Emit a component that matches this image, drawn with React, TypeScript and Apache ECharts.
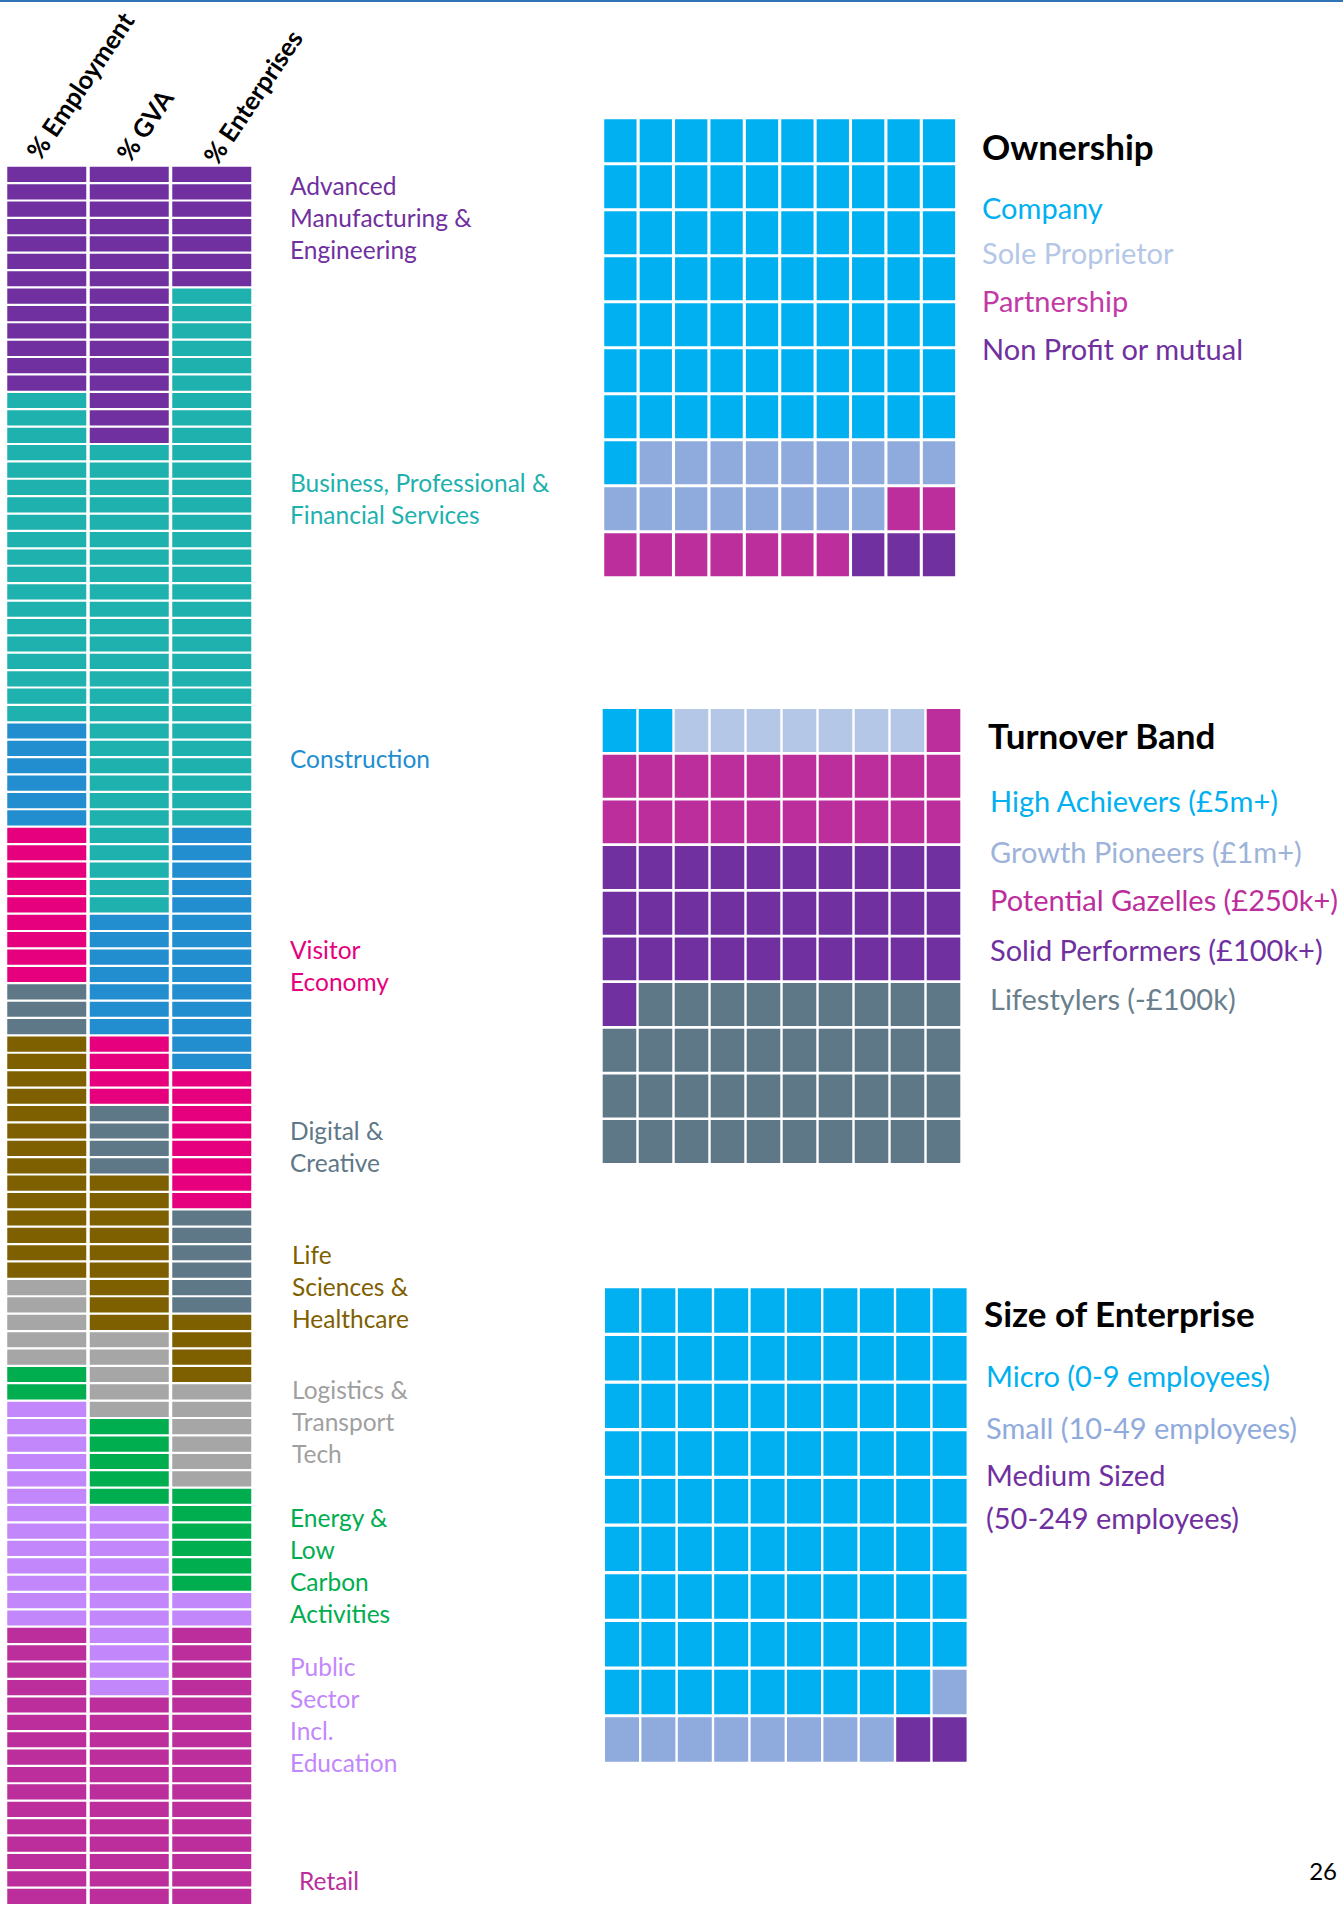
import React, { useEffect, useRef } from "react";
import * as echarts from "echarts";

// ---------- DATA ----------
const columnLabels = ["% Employment", "% GVA", "% Enterprises"];
const sectorLabels = [
  "Advanced\nManufacturing &\nEngineering",
  "Business, Professional &\nFinancial Services",
  "Construction",
  "Visitor\nEconomy",
  "Digital &\nCreative",
  "Life\nSciences &\nHealthcare",
  "Logistics &\nTransport\nTech",
  "Energy &\nLow\nCarbon\nActivities",
  "Public\nSector\nIncl.\nEducation",
  "Retail",
];
const employmentShare = [13, 19, 6, 9, 3, 14, 5, 2, 13, 16];
const gvaShare = [16, 27, 7, 4, 4, 9, 5, 5, 11, 12];
const enterpriseShare = [7, 31, 14, 8, 6, 4, 6, 6, 2, 16];

const ownershipTitle = "Ownership";
const ownershipCategories = ["Company", "Sole Proprietor", "Partnership", "Non Profit or mutual"];
const ownershipValues = [71, 17, 9, 3];

const turnoverTitle = "Turnover Band";
const turnoverCategories = [
  "High Achievers (£5m+)",
  "Growth Pioneers (£1m+)",
  "Potential Gazelles (£250k+)",
  "Solid Performers (£100k+)",
  "Lifestylers (-£100k)",
];
const turnoverValues = [2, 7, 21, 31, 39];

const sizeTitle = "Size of Enterprise";
const sizeCategories = ["Micro (0-9 employees)", "Small (10-49 employees)", "Medium Sized\n(50-249 employees)"];
const sizeValues = [89, 9, 2];

const pageNumber = "26";

// ---------- STYLES ----------
const FONT = "Lato, 'Open Sans', sans-serif";
const sectorColors = ["#7030A0", "#1EB1AE", "#228ECF", "#E6007E", "#5E7888", "#7F6000", "#A6A6A6", "#00AD4F", "#C287FB", "#BC2E9C"];
const sectorTextColors = ["#7030A0", "#1EB1AE", "#228ECF", "#E6007E", "#5E7888", "#7F6000", "#A0A0A0", "#00AD4F", "#C287FB", "#BC2E9C"];
const ownershipColors = ["#00B0F0", "#8FAADC", "#BC2E9C", "#7030A0"];
const ownershipTextColors = ["#00B0F0", "#B4C7E7", "#C23AA6", "#7030A0"];
const turnoverColors = ["#00B0F0", "#B4C7E7", "#BC2E9C", "#7030A0", "#5E7888"];
const turnoverTextColors = ["#00B0F0", "#9DB3D9", "#BC2E9C", "#7030A0", "#6A7F8C"];
const sizeColors = ["#00B0F0", "#8FAADC", "#7030A0"];
const sizeTextColors = ["#00B0F0", "#8FAADC", "#7030A0"];

// label positions (layout only)
const sectorLabelPos = [
  [290, 217], [290, 498], [290, 758], [290, 965], [290, 1146],
  [292, 1286], [292, 1421], [290, 1565], [290, 1714], [299, 1880],
];
const headerPos = [[43, 163], [133, 165], [220, 168]];

function waffleData(values: number[]) {
  const out: number[][] = [];
  let k = 0;
  values.forEach((v, ci) => {
    for (let i = 0; i < v; i++) {
      out.push([k % 10, Math.floor(k / 10), ci]);
      k++;
    }
  });
  return out;
}

function stackData(cols: number[][]) {
  const out: number[][] = [];
  cols.forEach((vals, c) => {
    let r = 0;
    vals.forEach((v, si) => {
      for (let i = 0; i < v; i++) {
        out.push([c, r, si]);
        r++;
      }
    });
  });
  return out;
}

const cells10 = Array.from({ length: 10 }, (_, i) => String(i));
const rows100 = Array.from({ length: 100 }, (_, i) => String(i));

function cellRenderer(colors: string[], gapX: number, gapY: number) {
  return (params: any, api: any) => {
    const c = api.coord([api.value(0), api.value(1)]);
    const s = api.size([1, 1]);
    const w = s[0] - gapX;
    const h = s[1] - gapY;
    return {
      type: "rect",
      shape: { x: c[0] - w / 2, y: c[1] - h / 2, width: w, height: h },
      style: { fill: colors[api.value(2)] },
    };
  };
}

export default function App() {
  const ref = useRef<HTMLDivElement>(null);
  useEffect(() => {
    document.body.style.margin = "0";
    const chart = echarts.init(ref.current!, null, { renderer: "svg" });

    const grids = [
      { left: 5.5, top: 165.7, width: 247.5, height: 1739.5 },
      { left: 602.7, top: 117.8, width: 354, height: 460 },
      { left: 601.5, top: 707.7, width: 360, height: 456.7 },
      { left: 603.8, top: 1286.7, width: 364, height: 476.7 },
    ];
    const hidden = { show: false };
    const xAxis = [
      { gridIndex: 0, type: "category", data: columnLabels, ...hidden },
      { gridIndex: 1, type: "category", data: cells10, ...hidden },
      { gridIndex: 2, type: "category", data: cells10, ...hidden },
      { gridIndex: 3, type: "category", data: cells10, ...hidden },
    ];
    const yAxis = [
      { gridIndex: 0, type: "category", data: rows100, inverse: true, ...hidden },
      { gridIndex: 1, type: "category", data: cells10, inverse: true, ...hidden },
      { gridIndex: 2, type: "category", data: cells10, inverse: true, ...hidden },
      { gridIndex: 3, type: "category", data: cells10, inverse: true, ...hidden },
    ];

    const graphic: any[] = [];
    graphic.push({ type: "rect", shape: { x: 0, y: 0, width: 1343, height: 2 }, style: { fill: "#2F74B5" } });

    columnLabels.forEach((t, i) => {
      graphic.push({
        type: "text",
        x: headerPos[i][0],
        y: headerPos[i][1],
        rotation: (56 * Math.PI) / 180,
        style: { text: t, font: `bold 25.5px ${FONT}`, fill: "#000", textAlign: "left", textVerticalAlign: "bottom" },
      });
    });

    sectorLabels.forEach((t, i) => {
      graphic.push({
        type: "text",
        x: sectorLabelPos[i][0],
        y: sectorLabelPos[i][1],
        style: {
          text: t,
          font: `24.5px ${FONT}`,
          lineHeight: 32,
          fill: sectorTextColors[i],
          textAlign: "left",
          textVerticalAlign: "middle",
        },
      });
    });

    const legendBlock = (title: string, titlePos: number[], cats: string[], colors: string[], x: number, ys: number[], lh: number) => {
      graphic.push({
        type: "text",
        x: titlePos[0],
        y: titlePos[1],
        style: { text: title, font: `bold 35px ${FONT}`, fill: "#000", textAlign: "left", textVerticalAlign: "middle" },
      });
      cats.forEach((c, i) => {
        graphic.push({
          type: "text",
          x,
          y: ys[i],
          style: { text: c, font: `29px ${FONT}`, lineHeight: lh, fill: colors[i], textAlign: "left", textVerticalAlign: "middle" },
        });
      });
    };
    legendBlock(ownershipTitle, [982, 146], ownershipCategories, ownershipTextColors, 982, [207, 252, 300, 348], 30);
    legendBlock(turnoverTitle, [988, 735], turnoverCategories, turnoverTextColors, 990, [800, 851, 899, 949, 998], 30);
    legendBlock(sizeTitle, [984, 1313], sizeCategories, sizeTextColors, 986, [1375, 1427, 1496], 43);

    graphic.push({
      type: "text",
      x: 1337,
      y: 1870,
      style: { text: pageNumber, font: `24px ${FONT}`, fill: "#000", textAlign: "right", textVerticalAlign: "middle" },
    });

    chart.setOption({
      animation: false,
      backgroundColor: "#fff",
      grid: grids,
      xAxis,
      yAxis,
      series: [
        {
          type: "custom",
          xAxisIndex: 0,
          yAxisIndex: 0,
          renderItem: cellRenderer(sectorColors, 3.5, 2.2),
          data: stackData([employmentShare, gvaShare, enterpriseShare]),
        },
        {
          type: "custom",
          xAxisIndex: 1,
          yAxisIndex: 1,
          renderItem: cellRenderer(ownershipColors, 3.1, 3),
          data: waffleData(ownershipValues),
        },
        {
          type: "custom",
          xAxisIndex: 2,
          yAxisIndex: 2,
          renderItem: cellRenderer(turnoverColors, 2.4, 2.7),
          data: waffleData(turnoverValues),
        },
        {
          type: "custom",
          xAxisIndex: 3,
          yAxisIndex: 3,
          renderItem: cellRenderer(sizeColors, 2.4, 3.2),
          data: waffleData(sizeValues),
        },
      ],
      graphic,
    });
    return () => chart.dispose();
  }, []);
  return <div ref={ref} style={{ width: 1343, height: 1905 }} />;
}
